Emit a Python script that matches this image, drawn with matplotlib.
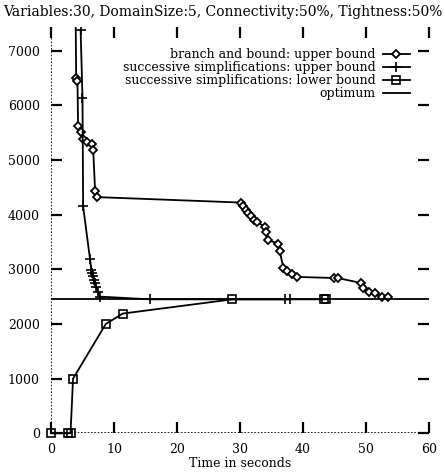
import matplotlib
matplotlib.use("Agg")
import matplotlib.pyplot as plt

title = "Variables:30, DomainSize:5, Connectivity:50%, Tightness:50%"
xlabel = "Time in seconds"

bb_x = [3.8, 4.0, 4.2, 4.3, 4.7, 5.1, 5.7, 6.5, 6.7, 7.0, 7.25, 30.2, 30.5, 30.9, 31.3, 31.7,
        32.2, 32.7, 34.0, 34.2, 34.5, 36.1, 36.3, 36.9, 37.4, 38.2, 39.0, 45.0, 45.5, 49.2,
        49.6, 50.4, 51.4, 52.5, 53.5]
bb_y = [9000, 6500, 6450, 5620, 5510, 5380, 5330, 5300, 5190, 4430, 4320, 4220, 4160, 4090,
        4030, 3970, 3910, 3860, 3780, 3690, 3530, 3470, 3330, 3020, 2960, 2920, 2860, 2840,
        2840, 2750, 2650, 2590, 2560, 2500, 2490]

ssu_x = [4.7, 5.0, 5.1, 6.2, 6.4, 6.55, 6.7, 6.85, 7.0, 7.15, 7.4, 7.7, 15.7, 37.1, 38.0]
ssu_y = [7380, 6140, 4150, 3180, 2990, 2930, 2870, 2800, 2740, 2680, 2590, 2500, 2450, 2450, 2450]

ssl_x = [0.0, 2.7, 3.1, 3.5, 8.7, 11.4, 28.8, 43.4, 43.7]
ssl_y = [0, 0, 0, 1000, 2000, 2190, 2450, 2450, 2450]

optimum = 2450

labels = ["branch and bound: upper bound",
          "successive simplifications: upper bound",
          "successive simplifications: lower bound",
          "optimum"]

plt.rcParams['font.family'] = ['DejaVu Serif']
fs = 9

fig = plt.figure(figsize=(4.45, 4.74), dpi=100)
ax = fig.add_axes([0.1146, 0.0859, 0.8494, 0.857])
ax.set_xlim(0, 60)
ax.set_ylim(0, 7430)

lw = 1.3
ax.plot(bb_x, bb_y, color='black', lw=lw, marker='D', markersize=4,
        mfc='white', mec='black', mew=1.3, label=labels[0])
ax.plot(ssu_x, ssu_y, color='black', lw=lw, marker='+', markersize=6.5,
        mew=1.2, label=labels[1])
ax.plot(ssl_x, ssl_y, color='black', lw=lw, marker='s', markersize=5.5,
        mfc='none', mec='black', mew=1.2, label=labels[2], clip_on=False, zorder=5)
ax.plot([0, 60], [optimum, optimum], color='black', lw=lw, label=labels[3])

ax.axvline(0, color='black', lw=1.2, ls=(0, (1, 1)))
ax.plot([0, 60], [0, 0], color='black', lw=1.2, ls=(0, (1, 1)))

for s in ax.spines.values():
    s.set_visible(False)

ax.set_xticks(range(0, 61, 10))
ax.set_yticks(range(0, 7001, 1000))
ax.tick_params(direction='in', top=True, right=True, length=8, width=1.6,
               labelsize=fs, pad=7)
ax.tick_params(axis='y', pad=8)

fig.text(0.5, 1 - 12 / 474, title, fontsize=10, ha='center', va='center')
ax.set_xlabel(xlabel, fontsize=fs, labelpad=1)

leg = ax.legend(loc='upper right', bbox_to_anchor=(0.95, 0.948), markerfirst=False,
                frameon=False, fontsize=fs, handlelength=2.2, handletextpad=0.55,
                labelspacing=0.0, borderpad=0, borderaxespad=0)

fig.savefig("out.png", dpi=100)
